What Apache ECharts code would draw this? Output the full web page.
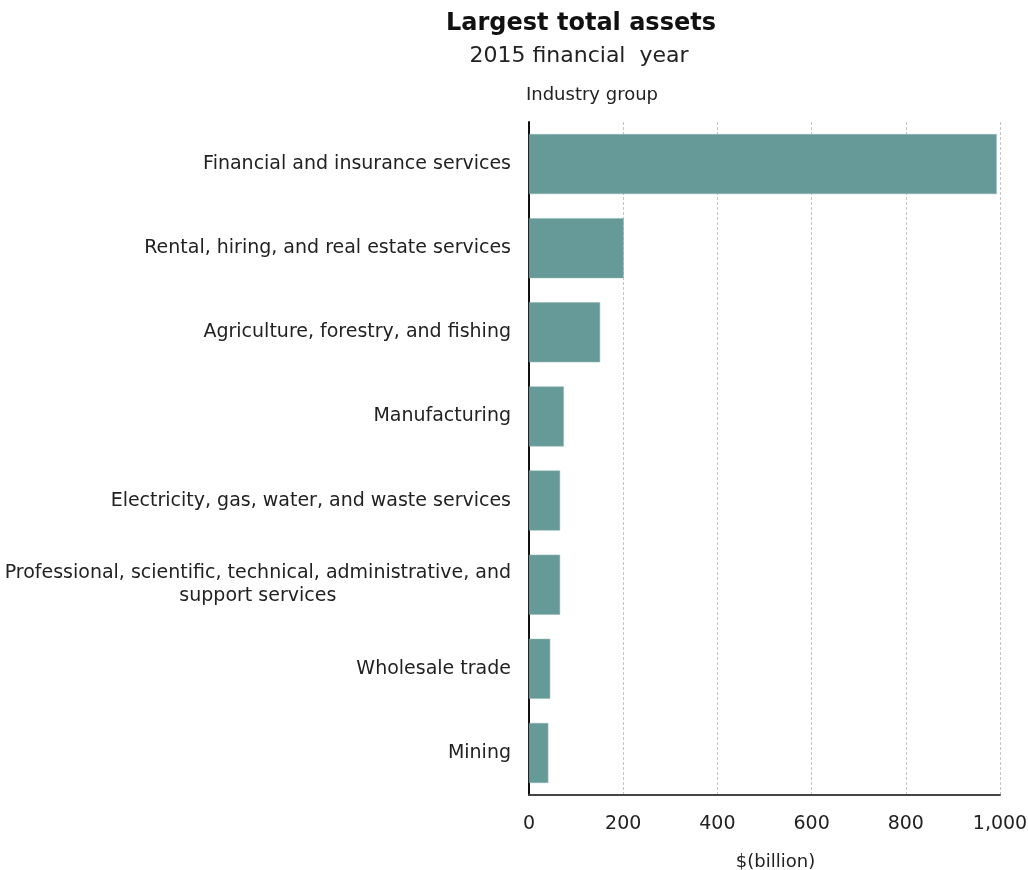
<!DOCTYPE html>
<html>
<head>
<meta charset="utf-8">
<script src="https://cdn.jsdelivr.net/npm/echarts@6/dist/echarts.min.js"></script>
<style>html,body{margin:0;padding:0;background:#fff}#c{width:1028px;height:870px}</style>
</head>
<body>
<div id="c"></div>
<script>
const categories = [
  "Financial and insurance services",
  "Rental, hiring, and real estate services",
  "Agriculture, forestry, and fishing",
  "Manufacturing",
  "Electricity, gas, water, and waste services",
  "Professional, scientific, technical, administrative, and\nsupport services",
  "Wholesale trade",
  "Mining"
];
const values = [993, 201, 151, 74, 66, 66, 45, 41];
const xTicks = [0, 200, 400, 600, 800, 1000];

const FONT = '"DejaVu Sans", Verdana, sans-serif';
const chart = echarts.init(document.getElementById('c'));
chart.setOption({
  backgroundColor: '#fff',
  animation: false,
  title: [
    { text: 'Largest total assets', left: 576, top: 7, textAlign: 'center',
      textStyle: { fontFamily: FONT, fontSize: 24, fontWeight: 'bold', color: '#111' } },
    { text: '2015 financial  year', left: 574, top: 40, textAlign: 'center',
      textStyle: { fontFamily: FONT, fontSize: 22, fontWeight: 'normal', color: '#222' } },
    { text: 'Industry group', left: 587, top: 81, textAlign: 'center',
      textStyle: { fontFamily: FONT, fontSize: 18, fontWeight: 'normal', color: '#222' } }
  ],
  grid: { left: 529, right: 28, top: 122, bottom: 75, containLabel: false, outerBoundsMode: 'none' },
  xAxis: {
    type: 'value', min: 0, max: 1000, interval: 200,
    name: '$(billion)', nameLocation: 'middle', nameGap: 58,
    nameTextStyle: { fontFamily: FONT, fontSize: 18, color: '#222', padding: [0, 0, 0, 22] },
    axisLine: { show: true, lineStyle: { color: '#444', width: 2 } },
    axisTick: { show: false },
    axisLabel: { fontFamily: FONT, fontSize: 19, color: '#222', margin: 20,
      formatter: v => xTicks.includes(v) ? v.toLocaleString('en-US') : '' },
    splitLine: { show: true, lineStyle: { color: '#c4c4c4', type: [3, 2], width: 1 } }
  },
  yAxis: {
    type: 'category', data: categories, inverse: true,
    axisLine: { show: true, lineStyle: { color: '#111', width: 2 } },
    axisTick: { show: false },
    axisLabel: { margin: 18, align: 'right',
      formatter: v => v.split('\n').map(s => '{c|' + s + '}').join('\n'),
      rich: { c: { align: 'center', fontFamily: FONT, fontSize: 19, color: '#222', lineHeight: 23 } } },
    splitLine: { show: false }
  },
  series: [{
    type: 'bar', data: values, barWidth: 60,
    itemStyle: { color: '#669a99', borderColor: '#8fb6b5', borderWidth: 0.5 }
  }]
});
</script>
</body>
</html>
